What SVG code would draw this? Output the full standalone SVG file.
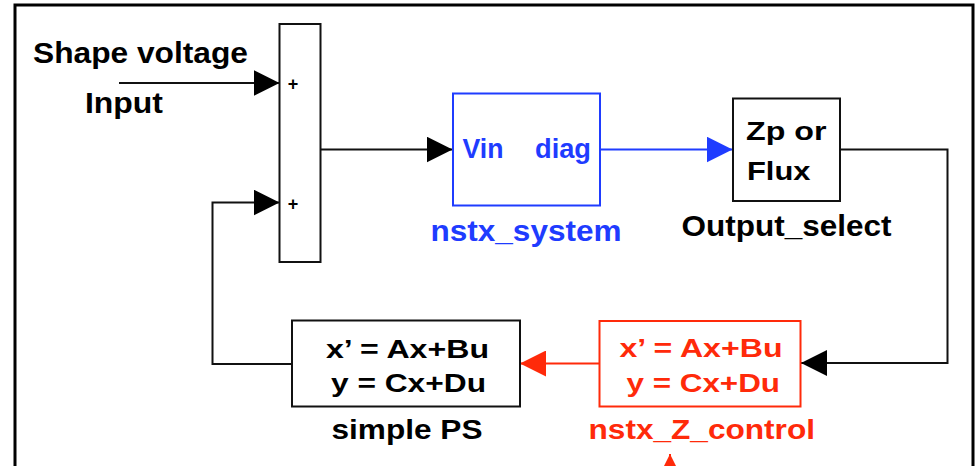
<svg xmlns="http://www.w3.org/2000/svg" width="975" height="466" viewBox="0 0 975 466">
<style>
text{font-family:"Liberation Sans",Arial,sans-serif;font-weight:bold}
.k{fill:#000}
.b{fill:#1f3cff}
.r{fill:#ff2a0a}
.box{fill:#fff;stroke:#111;stroke-width:2}
.bbox{fill:#fff;stroke:#1f3cff;stroke-width:2}
.rbox{fill:#fff;stroke:#ff2a0a;stroke-width:2}
.lk{fill:none;stroke:#111;stroke-width:2}
.lb{fill:none;stroke:#1f3cff;stroke-width:2}
.lr{fill:none;stroke:#ff2a0a;stroke-width:2}
</style>
<defs>
<marker id="ak" markerUnits="userSpaceOnUse" markerWidth="26" markerHeight="26" viewBox="0 0 26 26" refX="26" refY="13" orient="auto"><path d="M0,0 L26,13 L0,26 z" fill="#000"/></marker>
<marker id="ab" markerUnits="userSpaceOnUse" markerWidth="26" markerHeight="26" viewBox="0 0 26 26" refX="26" refY="13" orient="auto"><path d="M0,0 L26,13 L0,26 z" fill="#1f3cff"/></marker>
<marker id="ar" markerUnits="userSpaceOnUse" markerWidth="26" markerHeight="26" viewBox="0 0 26 26" refX="26" refY="13" orient="auto"><path d="M0,0 L26,13 L0,26 z" fill="#ff2a0a"/></marker>
</defs>
<rect width="975" height="466" fill="#fff"/>
<path d="M15,475 V5 H973 V475" fill="none" stroke="#000" stroke-width="3"/>

<g id="connectors">
<path class="lk" d="M119,83 H279.5" marker-end="url(#ak)"/>
<path class="lk" d="M320.5,149.5 H452.5" marker-end="url(#ak)"/>
<path class="lb" d="M600,149.5 H732.5" marker-end="url(#ab)"/>
<path class="lk" d="M840,149.5 H947.5 V363 H801" marker-end="url(#ak)"/>
<path class="lr" d="M599.5,363.5 H520" marker-end="url(#ar)"/>
<path class="lk" d="M291.5,364 H212.5 V202.5 H279.5" marker-end="url(#ak)"/>
<path class="lr" d="M670,500 V454" marker-end="url(#ar)"/>
</g>

<g id="input-label">
<text class="k" x="33" y="63" font-size="29" textLength="215" lengthAdjust="spacingAndGlyphs">Shape voltage</text>
<text class="k" x="85" y="113" font-size="29" textLength="78" lengthAdjust="spacingAndGlyphs">Input</text>
</g>

<g id="sum">
<rect class="box" x="279.5" y="24" width="41" height="238"/>
<text class="k" x="293" y="90" font-size="18" text-anchor="middle">+</text>
<text class="k" x="293" y="210" font-size="18" text-anchor="middle">+</text>
</g>

<g id="nstx_system">
<rect class="bbox" x="453" y="93.5" width="147" height="112"/>
<text class="b" x="462.5" y="157.5" font-size="27" textLength="41" lengthAdjust="spacingAndGlyphs">Vin</text>
<text class="b" x="535" y="157.5" font-size="27" textLength="56" lengthAdjust="spacingAndGlyphs">diag</text>
<text class="b" x="430.5" y="240.5" font-size="29" textLength="191" lengthAdjust="spacingAndGlyphs">nstx_system</text>
</g>

<g id="output_select">
<rect class="box" x="733" y="98.5" width="107" height="102.5"/>
<text class="k" x="746" y="140" font-size="26.5" textLength="80.5" lengthAdjust="spacingAndGlyphs">Zp or</text>
<text class="k" x="747" y="180" font-size="26.5" textLength="63.5" lengthAdjust="spacingAndGlyphs">Flux</text>
<text class="k" x="681.5" y="236" font-size="30" textLength="210" lengthAdjust="spacingAndGlyphs">Output_select</text>
</g>

<g id="nstx_Z_control">
<rect class="rbox" x="599.5" y="321" width="201" height="85.5"/>
<text class="r" x="619.5" y="357" font-size="26" textLength="163" lengthAdjust="spacingAndGlyphs">x’ = Ax+Bu</text>
<text class="r" x="626.5" y="391.5" font-size="26" textLength="153.5" lengthAdjust="spacingAndGlyphs">y = Cx+Du</text>
<text class="r" x="588.5" y="438.5" font-size="28" textLength="226.5" lengthAdjust="spacingAndGlyphs">nstx_Z_control</text>
</g>

<g id="simple_PS">
<rect class="box" x="292" y="320.5" width="228" height="86"/>
<text class="k" x="326" y="357.5" font-size="26" textLength="163" lengthAdjust="spacingAndGlyphs">x’ = Ax+Bu</text>
<text class="k" x="331" y="392" font-size="26" textLength="155" lengthAdjust="spacingAndGlyphs">y = Cx+Du</text>
<text class="k" x="331.5" y="438.5" font-size="27" textLength="151" lengthAdjust="spacingAndGlyphs">simple PS</text>
</g>
</svg>
